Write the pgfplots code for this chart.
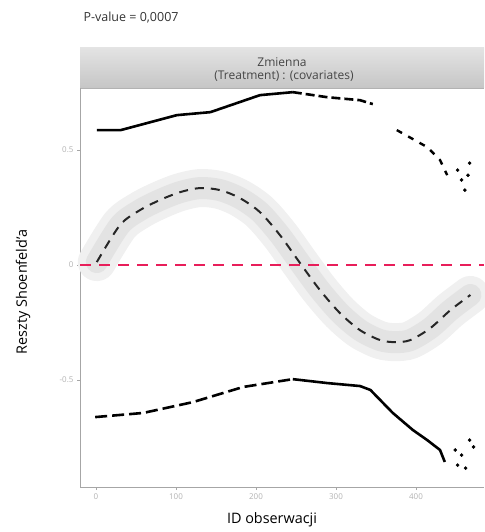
\documentclass[border=0pt]{standalone}
\usepackage{pgfplots}
\pgfplotsset{compat=1.18}
\usepackage{fontspec}
\setmainfont{Open Sans}
\definecolor{hline}{RGB}{232,30,90}
\begin{document}
\begin{tikzpicture}[x=1pt,y=1pt]
\useasboundingbox (0pt,0pt) rectangle (484pt,532pt);
% strip
\shade[top color=gray!22, bottom color=gray!45] (80pt,444pt) rectangle (484pt,484pt);
\draw[gray!60, line width=0.8pt] (80pt,444pt) -- (484pt,444pt);
\node[font=\fontsize{12}{14}\selectfont, text=gray!55!black] at (282pt,470pt) {Zmienna};
\node[font=\fontsize{12}{14}\selectfont, text=gray!55!black] at (284pt,456pt) {(Treatment) : (covariates)};
\node[anchor=west, font=\fontsize{12.5}{15}\selectfont, text=black!80] at (80pt,514pt) {P-value = 0,0007};
\node[font=\Large, rotate=90] at (23pt,240pt) {Reszty Shoenfeld'a};
\node[font=\Large] at (272pt,12pt) {ID obserwacji};
\begin{axis}[
  at={(80pt,45pt)}, anchor=south west,
  scale only axis, width=404pt, height=399pt,
  xmin=-20, xmax=485, ymin=-0.965, ymax=0.77,
  axis x line*=bottom, axis y line*=left,
  axis line style={gray!70, line width=0.8pt},
  xtick={0,100,200,300,400},
  xticklabels={0,100,200,300,400},
  ytick={-0.5,0,0.5},
  yticklabels={-0.5,0,0.5},
  tick style={gray!70, line width=0.8pt},
  tick align=outside, major tick length=3pt,
  ticklabel style={font=\footnotesize, text=gray!60},
  /pgf/number format/assume math mode=true,
  clip=false,
]
% band around smooth curve
\addplot[gray!12, line width=38pt, smooth, line cap=round] coordinates {
(1,0.013) (30,0.174) (55,0.239) (80,0.283) (105,0.317) (130,0.335) (155,0.326) (180,0.291) (205,0.230) (230,0.130) (255,0.009) (280,-0.109) (305,-0.209) (330,-0.283) (355,-0.326) (374,-0.335) (393,-0.326) (418,-0.274) (443,-0.196) (468,-0.13)};
\addplot[gray!22, line width=22pt, smooth, line cap=round] coordinates {
(1,0.013) (30,0.174) (55,0.239) (80,0.283) (105,0.317) (130,0.335) (155,0.326) (180,0.291) (205,0.230) (230,0.130) (255,0.009) (280,-0.109) (305,-0.209) (330,-0.283) (355,-0.326) (374,-0.335) (393,-0.326) (418,-0.274) (443,-0.196) (468,-0.13)};
% zero line
\addplot[hline, line width=2.4pt, dash pattern=on 11pt off 8pt] coordinates {(-20,0) (485,0)};
% smooth dashed curve
\addplot[black!85, line width=2pt, smooth, dash pattern=on 9pt off 7pt] coordinates {
(1,0.013) (30,0.174) (55,0.239) (80,0.283) (105,0.317) (130,0.335) (155,0.326) (180,0.291) (205,0.230) (230,0.130) (255,0.009) (280,-0.109) (305,-0.209) (330,-0.283) (355,-0.326) (374,-0.335) (393,-0.326) (418,-0.274) (443,-0.196) (468,-0.13)};
% upper line
\addplot[black, line width=2.6pt] coordinates {
(1,0.587) (31,0.587) (101,0.652) (143,0.665) (205,0.739) (246,0.752)};
\addplot[black, line width=2.6pt, dash pattern=on 9pt off 4pt] coordinates {
(246,0.752) (289,0.730) (330,0.717) (346,0.700)};
\addplot[black, line width=2.4pt, dash pattern=on 6pt off 7pt] coordinates {
(376,0.587) (414,0.513) (430,0.457) (439,0.391)};
\addplot[only marks, mark=*, mark size=1.6pt, black] coordinates {
(452,0.413) (457,0.370) (461,0.326) (467,0.443) (465,0.391)};
% lower line
\addplot[black, line width=2.6pt, dash pattern=on 12pt off 5pt] coordinates {
(-1,-0.661) (59,-0.643) (121,-0.596) (184,-0.530) (246,-0.496)};
\addplot[black, line width=2.6pt] coordinates {
(246,-0.496) (289,-0.513) (330,-0.526) (343,-0.543) (371,-0.643) (396,-0.717) (414,-0.761) (430,-0.804) (436,-0.856)};
\addplot[only marks, mark=*, mark size=1.6pt, black] coordinates {
(449,-0.804) (452,-0.870) (457,-0.826) (467,-0.761) (462,-0.883) (472,-0.791)};
\end{axis}
\end{tikzpicture}
\end{document}
